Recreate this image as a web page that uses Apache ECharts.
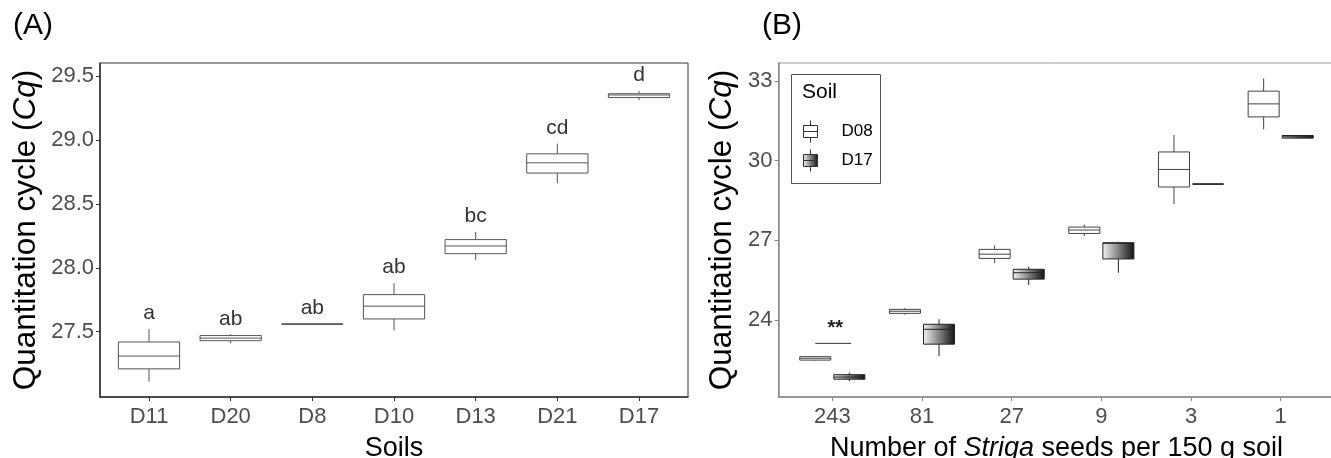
<!DOCTYPE html>
<html>
<head>
<meta charset="utf-8">
<script src="https://cdn.jsdelivr.net/npm/echarts@6/dist/echarts.min.js"></script>
<style>
  html, body { margin: 0; padding: 0; background: #fff; }
  #main { width: 1331px; height: 458px; }
</style>
</head>
<body>
<div id="main"></div>
<script>
// (A) Cq per soil, each box = [min, q1, median, q3, max]
var soilsA = ['D11', 'D20', 'D8', 'D10', 'D13', 'D21', 'D17'];
var boxA = [
  [27.11, 27.21, 27.31, 27.42, 27.52],
  [27.41, 27.43, 27.45, 27.47, 27.48],
  [27.56, 27.56, 27.56, 27.56, 27.56],
  [27.51, 27.60, 27.70, 27.79, 27.88],
  [28.06, 28.11, 28.17, 28.22, 28.28],
  [28.66, 28.74, 28.82, 28.89, 28.97],
  [29.31, 29.33, 29.35, 29.36, 29.38]
];
var lettersA = ['a', 'ab', 'ab', 'ab', 'bc', 'cd', 'd'];
var ticksA = [27.5, 28.0, 28.5, 29.0, 29.5];

// (B) Cq per number of Striga seeds, two soils
var seeds = ['243', '81', '27', '9', '3', '1'];
var boxD08 = [
  [22.47, 22.49, 22.56, 22.62, 22.64],
  [24.20, 24.25, 24.33, 24.40, 24.45],
  [26.15, 26.32, 26.48, 26.66, 26.80],
  [27.16, 27.26, 27.39, 27.50, 27.60],
  [28.36, 29.01, 29.67, 30.33, 30.97],
  [31.18, 31.65, 32.14, 32.62, 33.10]
];
var boxD17 = [
  [21.69, 21.77, 21.85, 21.94, 22.02],
  [22.64, 23.09, 23.65, 23.84, 24.03],
  [25.32, 25.54, 25.78, 25.91, 26.01],
  [25.78, 26.30, 26.89, 26.91, 26.95],
  [29.12, 29.12, 29.12, 29.12, 29.12],
  [30.83, 30.85, 30.90, 30.95, 30.97]
];
var ticksB = [24, 27, 30, 33];
// significance mark: [seed index, Cq of the bar, text]
var sigB = [[0, 23.12, '**']];

var FONT = '"Liberation Sans", Arial, Helvetica, sans-serif';
var grad = new echarts.graphic.LinearGradient(0, 0, 1, 0, [
  { offset: 0, color: '#f4f4f4' },
  { offset: 1, color: '#111111' }
]);

function toRows(list) {
  return list.map(function (b, i) { return [i].concat(b); });
}

// draws one box + whiskers from [x, min, q1, med, q3, max]
function boxRenderer(offset, halfW, fill, stroke, letters) {
  return function (params, api) {
    var x = api.value(0) + offset;
    var mn = api.value(1), q1 = api.value(2), md = api.value(3), q3 = api.value(4), mx = api.value(5);
    var tl = api.coord([x - halfW, q3]);
    var br = api.coord([x + halfW, q1]);
    var top = api.coord([x, mx]);
    var bot = api.coord([x, mn]);
    var mL = api.coord([x - halfW, md]);
    var mR = api.coord([x + halfW, md]);
    var ls = { stroke: stroke, lineWidth: 1 };
    var kids = [
      { type: 'line', shape: { x1: top[0], y1: top[1], x2: top[0], y2: tl[1] }, style: ls },
      { type: 'line', shape: { x1: bot[0], y1: br[1], x2: bot[0], y2: bot[1] }, style: ls },
      { type: 'rect', shape: { x: tl[0], y: tl[1], width: br[0] - tl[0], height: br[1] - tl[1] },
        style: { fill: fill, stroke: stroke, lineWidth: 1 } },
      { type: 'line', shape: { x1: mL[0], y1: mL[1], x2: mR[0], y2: mR[1] }, style: ls }
    ];
    if (letters) {
      kids.push({
        type: 'text', x: top[0], y: top[1] - 5,
        style: { text: letters[params.dataIndex], fill: '#333', font: '21px ' + FONT,
                 align: 'center', verticalAlign: 'bottom' }
      });
    }
    return { type: 'group', children: kids };
  };
}

function sigRenderer(params, api) {
  var x = api.value(0);
  var a = api.coord([x - 0.19, api.value(1)]);
  var b = api.coord([x + 0.21, api.value(1)]);
  return {
    type: 'group',
    children: [
      { type: 'line', shape: { x1: a[0], y1: a[1], x2: b[0], y2: b[1] }, style: { stroke: '#333', lineWidth: 1 } },
      { type: 'text', x: (a[0] + b[0]) / 2 + 2, y: a[1] - 5,
        style: { text: sigB[params.dataIndex][2], fill: '#222', font: 'bold 20px ' + FONT,
                 align: 'center', verticalAlign: 'bottom' } }
    ]
  };
}

var idxA = soilsA.map(function (s, i) { return i; });
var idxB = seeds.map(function (s, i) { return i; });

var chart = echarts.init(document.getElementById('main'));
var option = {
  animation: false,
  textStyle: { fontFamily: FONT },
  title: [
    { text: '(A)', left: 13, top: 11, padding: 0, textStyle: { fontSize: 30, fontWeight: 'normal', color: '#000' } },
    { text: '(B)', left: 762, top: 11, padding: 0, textStyle: { fontSize: 30, fontWeight: 'normal', color: '#000' } },
    { text: 'Soil', left: 802, top: 82, padding: 0, textStyle: { fontSize: 21, fontWeight: 'normal', color: '#000' } }
  ],
  graphic: [
    { type: 'rect', z: 1, shape: { x: 791.5, y: 74.5, width: 89, height: 109 },
      style: { fill: '#fff', stroke: '#555', lineWidth: 1 } }
  ],
  legend: {
    data: ['D08', 'D17'],
    orient: 'vertical',
    left: 803, top: 120, padding: 0,
    itemWidth: 14, itemHeight: 22, itemGap: 6,
    icon: 'path://M7,0V5M0,5H14V17H0ZM0,11H14M7,17V22',
    itemStyle: { borderColor: '#333', borderWidth: 1 },
    textStyle: { fontSize: 17, color: '#000', padding: [0, 0, 0, 19] },
    selectedMode: false
  },
  grid: [
    { left: 100, top: 63, width: 588, height: 334, outerBoundsMode: 'none',
      show: true, borderColor: '#333', borderWidth: 1 },
    { left: 778.5, top: 63, width: 556, height: 334, outerBoundsMode: 'none',
      show: true, borderColor: '#999', borderWidth: 1 }
  ],
  xAxis: [
    {
      gridIndex: 0, type: 'value', min: -0.6, max: 6.6,
      splitLine: { show: false },
      axisLine: { show: true, onZero: false, lineStyle: { color: '#333', width: 1.5 } },
      axisTick: { show: true, customValues: idxA, length: 4, lineStyle: { color: '#333' } },
      axisLabel: { customValues: idxA, formatter: function (v) { return soilsA[Math.round(v)]; },
                   fontSize: 22, color: '#4d4d4d', margin: 9 },
      name: 'Soils', nameLocation: 'middle', nameGap: 38,
      nameTextStyle: { fontSize: 27, color: '#000' }
    },
    {
      gridIndex: 1, type: 'value', min: -0.6, max: 5.6,
      splitLine: { show: false },
      axisLine: { show: true, onZero: false, lineStyle: { color: '#888', width: 1.5 } },
      axisTick: { show: true, customValues: idxB, length: 4, lineStyle: { color: '#888' } },
      axisLabel: { customValues: idxB, formatter: function (v) { return seeds[Math.round(v)]; },
                   fontSize: 22, color: '#4d4d4d', margin: 9 },
      name: 'Number of {i|Striga} seeds per 150 g soil', nameLocation: 'middle', nameGap: 38,
      nameTextStyle: { fontSize: 27, color: '#000',
                       rich: { i: { fontStyle: 'italic', fontSize: 27, color: '#000' } } }
    }
  ],
  yAxis: [
    {
      gridIndex: 0, type: 'value', min: 26.99, max: 29.6,
      splitLine: { show: false },
      axisLine: { show: true, onZero: false, lineStyle: { color: '#333', width: 1.5 } },
      axisTick: { show: true, customValues: ticksA, length: 4, lineStyle: { color: '#333' } },
      axisLabel: { customValues: ticksA, formatter: function (v) { return v.toFixed(1); },
                   fontSize: 22, color: '#4d4d4d', margin: 6 },
      name: 'Quantitation cycle ({i|Cq})', nameLocation: 'middle', nameGap: 58,
      nameTextStyle: { fontSize: 31.5, color: '#000',
                       rich: { i: { fontStyle: 'italic', fontSize: 31.5, color: '#000' } } }
    },
    {
      gridIndex: 1, type: 'value', min: 21.1, max: 33.68,
      splitLine: { show: false },
      axisLine: { show: true, onZero: false, lineStyle: { color: '#888', width: 1.5 } },
      axisTick: { show: true, customValues: ticksB, length: 4, lineStyle: { color: '#888' } },
      axisLabel: { customValues: ticksB, formatter: function (v) { return String(v); },
                   fontSize: 22, color: '#4d4d4d', margin: 6 },
      name: 'Quantitation cycle ({i|Cq})', nameLocation: 'middle', nameGap: 40,
      nameTextStyle: { fontSize: 31.5, color: '#000',
                       rich: { i: { fontStyle: 'italic', fontSize: 31.5, color: '#000' } } }
    }
  ],
  series: [
    {
      name: 'soils', type: 'custom', xAxisIndex: 0, yAxisIndex: 0,
      data: toRows(boxA), encode: { x: 0, y: [1, 2, 3, 4, 5] },
      renderItem: boxRenderer(0, 0.375, '#fff', '#555', lettersA)
    },
    {
      name: 'D08', type: 'custom', xAxisIndex: 1, yAxisIndex: 1,
      data: toRows(boxD08), encode: { x: 0, y: [1, 2, 3, 4, 5] },
      itemStyle: { color: '#fff', borderColor: '#333', borderWidth: 1 },
      renderItem: boxRenderer(-0.19, 0.173, '#fff', '#444')
    },
    {
      name: 'D17', type: 'custom', xAxisIndex: 1, yAxisIndex: 1,
      data: toRows(boxD17), encode: { x: 0, y: [1, 2, 3, 4, 5] },
      itemStyle: { color: grad, borderColor: '#333', borderWidth: 1 },
      renderItem: boxRenderer(0.19, 0.173, grad, '#222')
    },
    {
      name: 'sig', type: 'custom', xAxisIndex: 1, yAxisIndex: 1,
      data: sigB.map(function (s) { return [s[0], s[1]]; }),
      renderItem: sigRenderer
    }
  ]
};
chart.setOption(option);
</script>
</body>
</html>
